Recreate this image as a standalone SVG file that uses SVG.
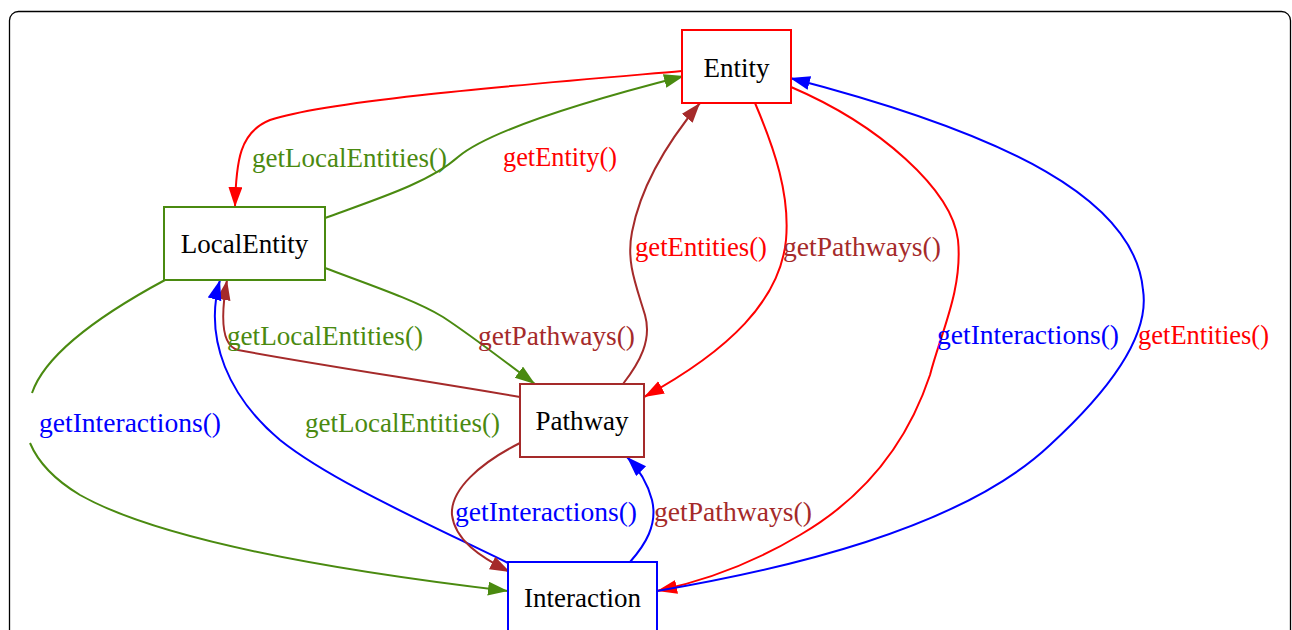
<svg xmlns="http://www.w3.org/2000/svg" width="1292" height="630" viewBox="0 0 1292 630">
<style>
.n{fill:#fff;stroke-width:2}
.t{font-family:"Liberation Serif","Times New Roman",serif;font-size:27px;fill:#000;text-anchor:middle}
.l{font-family:"Liberation Serif","Times New Roman",serif;font-size:27px}
.e{fill:none;stroke-width:2}
.red{stroke:#ff0000}.grn{stroke:#4a8a10}.brn{stroke:#a52a2a}.blu{stroke:#0000ff}
.fr{fill:#ff0000}.fg{fill:#4a8a10}.fb{fill:#a52a2a}.fu{fill:#0000ff}
</style>
<defs>
<marker id="ar" markerUnits="userSpaceOnUse" markerWidth="22" markerHeight="16" refX="20" refY="7" orient="auto"><path d="M0,0 L20,7 L0,14 z" fill="#ff0000"/></marker>
<marker id="ag" markerUnits="userSpaceOnUse" markerWidth="22" markerHeight="16" refX="20" refY="7" orient="auto"><path d="M0,0 L20,7 L0,14 z" fill="#4a8a10"/></marker>
<marker id="ab" markerUnits="userSpaceOnUse" markerWidth="22" markerHeight="16" refX="20" refY="7" orient="auto"><path d="M0,0 L20,7 L0,14 z" fill="#a52a2a"/></marker>
<marker id="au" markerUnits="userSpaceOnUse" markerWidth="22" markerHeight="16" refX="20" refY="7" orient="auto"><path d="M0,0 L20,7 L0,14 z" fill="#0000ff"/></marker>
</defs>
<rect x="9.5" y="11.5" width="1281" height="700" rx="9" fill="#fff" stroke="#000" stroke-width="1.3"/>
<g id="connectors">
<path class="e red" marker-end="url(#ar)" d="M682,71 C520,85 330,100 270,120 C240,132 236,160 235,207"/>
<path class="e grn" marker-end="url(#ag)" d="M325,218 C380,198 430,182 458,157 C490,130 590,100 684,76"/>
<path class="e brn" marker-end="url(#ab)" d="M623,384 C640,362 652,340 645,315 C636,285 626,262 632,232 C640,190 665,145 700,103"/>
<path class="e red" marker-end="url(#ar)" d="M755,103 C775,150 790,195 786,240 C780,300 730,350 644,397"/>
<path class="e red" marker-end="url(#ar)" d="M791,87 C880,125 952,190 958,240 C963,290 940,335 930,375 C905,450 860,500 800,535 C750,565 700,582 657,591"/>
<path class="e blu" marker-end="url(#au)" d="M657,591 C780,570 960,530 1050,445 C1110,390 1150,335 1143,290 C1135,200 1010,135 790,78"/>
<path class="e brn" marker-end="url(#ab)" d="M520,397 C420,380 300,362 238,350 C222,346 220,320 227,280"/>
<path class="e blu" marker-end="url(#au)" d="M508,563 C420,520 330,480 280,440 C230,398 203,340 220,280"/>
<path class="e grn" marker-end="url(#ag)" d="M165,280 C100,315 45,355 32,393 M30,443 C38,462 55,480 80,495 C160,540 330,570 508,591"/>
<path class="e grn" marker-end="url(#ag)" d="M325,268 C370,285 415,300 443,317 C475,338 505,362 535,384"/>
<path class="e brn" marker-end="url(#ab)" d="M520,443 C480,463 450,490 452,515 C455,540 480,557 510,572"/>
<path class="e blu" marker-end="url(#au)" d="M630,562 C645,545 658,525 652,500 C648,485 640,470 627,457"/>
<text class="l fg" x="252" y="167" textLength="195" lengthAdjust="spacingAndGlyphs">getLocalEntities()</text>
<text class="l fr" x="503" y="166" textLength="114" lengthAdjust="spacingAndGlyphs">getEntity()</text>
<text class="l fr" x="635" y="256" textLength="132" lengthAdjust="spacingAndGlyphs">getEntities()</text>
<text class="l fb" x="783" y="256" textLength="158" lengthAdjust="spacingAndGlyphs">getPathways()</text>
<text class="l fg" x="227" y="345" textLength="196" lengthAdjust="spacingAndGlyphs">getLocalEntities()</text>
<text class="l fb" x="478" y="345" textLength="157" lengthAdjust="spacingAndGlyphs">getPathways()</text>
<text class="l fu" x="937" y="344" textLength="182" lengthAdjust="spacingAndGlyphs">getInteractions()</text>
<text class="l fr" x="1138" y="344" textLength="131" lengthAdjust="spacingAndGlyphs">getEntities()</text>
<text class="l fu" x="39" y="432" textLength="182" lengthAdjust="spacingAndGlyphs">getInteractions()</text>
<text class="l fg" x="305" y="432" textLength="195" lengthAdjust="spacingAndGlyphs">getLocalEntities()</text>
<text class="l fu" x="455" y="521" textLength="182" lengthAdjust="spacingAndGlyphs">getInteractions()</text>
<text class="l fb" x="654" y="521" textLength="158" lengthAdjust="spacingAndGlyphs">getPathways()</text>
</g>
<g id="entity"><rect class="n red" x="682" y="30" width="109" height="73"/><text class="t" x="736.5" y="77">Entity</text></g>
<g id="localentity"><rect class="n grn" x="164" y="207" width="161" height="73"/><text class="t" x="244.5" y="253">LocalEntity</text></g>
<g id="pathway"><rect class="n brn" x="520" y="384" width="124" height="73"/><text class="t" x="582" y="430">Pathway</text></g>
<g id="interaction"><rect class="n blu" x="508" y="562" width="149" height="73"/><text class="t" x="582.5" y="607">Interaction</text></g>
</svg>
